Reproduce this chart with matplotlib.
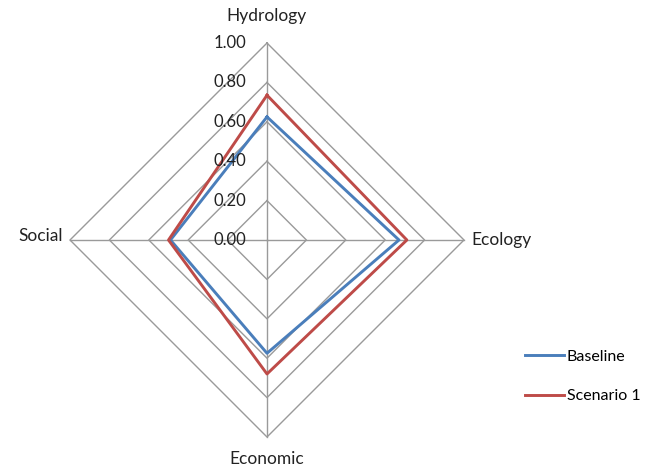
import numpy as np
import matplotlib
matplotlib.use("Agg")
import matplotlib.pyplot as plt

categories = ["Hydrology", "Ecology", "Economic", "Social"]
baseline = [0.625, 0.67, 0.575, 0.49]
scenario1 = [0.735, 0.71, 0.68, 0.50]
ring_levels = [0.2, 0.4, 0.6, 0.8, 1.0]
tick_labels = ["0.00", "0.20", "0.40", "0.60", "0.80", "1.00"]

plt.rcParams["font.family"] = ["Lato", "DejaVu Sans"]

W, H = 653, 472
cx, cy, R = 267, 232, 197  # centre (px from left/bottom) and radius in px

fig = plt.figure(figsize=(W / 100, H / 100), dpi=100)
ax = fig.add_axes([0, 0, 1, 1])
ax.set_xlim(-cx / R, (W - cx) / R)
ax.set_ylim(-cy / R, (H - cy) / R)
ax.axis("off")

# spoke angles: top, right, bottom, left
angles = np.pi / 2 - np.arange(len(categories)) * 2 * np.pi / len(categories)
ux, uy = np.cos(angles), np.sin(angles)

grid_color = "#9a9a9a"
for r in ring_levels:
    xs = np.append(r * ux, r * ux[0])
    ys = np.append(r * uy, r * uy[0])
    ax.plot(xs, ys, color=grid_color, lw=1.0, zorder=1)
for x, y in zip(ux, uy):
    ax.plot([0, x], [0, y], color=grid_color, lw=1.0, zorder=1)

def series_line(vals, color, label):
    v = np.array(vals)
    xs = np.append(v * ux, v[0] * ux[0])
    ys = np.append(v * uy, v[0] * uy[0])
    ax.plot(xs, ys, color=color, lw=2.1, label=label, zorder=3)

series_line(baseline, "#4a7ebb", "Baseline")
series_line(scenario1, "#be4b48", "Scenario 1")

# value labels along the top spoke
for i, t in enumerate(tick_labels):
    r = i * 0.2
    ax.text(-21 / R, r, t, ha="right", va="center", fontsize=12, color="#222222")

# category labels
lab_kw = dict(fontsize=12.5, color="#222222")
ax.text(0, 1.0 + 27 / R, categories[0], ha="center", va="center", **lab_kw)
ax.text(1.0 + 7 / R, 0, categories[1], ha="left", va="center", **lab_kw)
ax.text(0, -1.0 - 22 / R, categories[2], ha="center", va="center", **lab_kw)
ax.text(-1.0 - 7 / R, 0.02, categories[3], ha="right", va="center", **lab_kw)

leg = ax.legend(loc="upper left", bbox_to_anchor=(519 / W, 1 - 343 / H),
                frameon=False, fontsize=11.5, handlelength=2.4,
                handletextpad=0.2, labelspacing=1.6, borderaxespad=0)

fig.savefig("out.png", dpi=100)
